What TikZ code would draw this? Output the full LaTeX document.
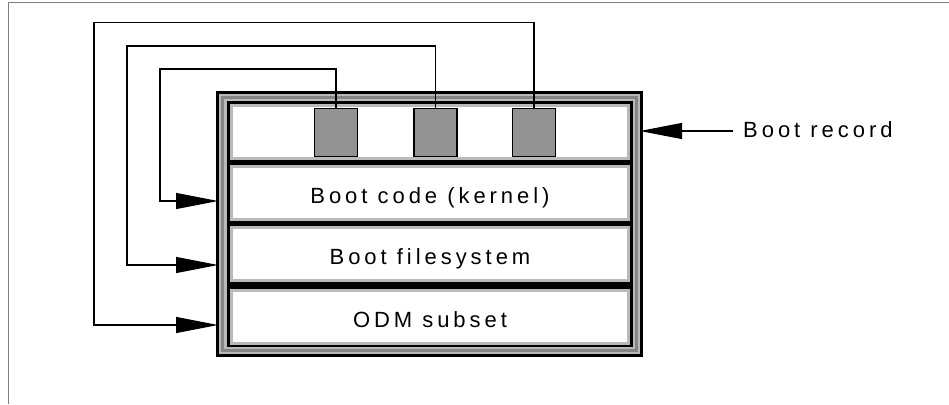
\documentclass[tikz,border=0pt]{standalone}
\usepackage{fontspec}
\setmainfont{Liberation Sans}[LetterSpace=18]
\usetikzlibrary{arrows.meta}

\definecolor{bandlight}{HTML}{B9B9B9}
\definecolor{banddark}{HTML}{858585}
\definecolor{slotgray}{HTML}{929292}
\definecolor{framegray}{HTML}{808080}

\tikzset{
  label text/.style={font=\fontsize{22}{26}\selectfont, text=black},
  layerbox/.style={draw=bandlight, line width=3pt, fill=white, outer sep=0pt,
    minimum width=397pt, minimum height=53pt, inner sep=0pt, label text,
    text height=21pt, text depth=0pt},
  slot/.style={draw=black, line width=1.2pt, fill=slotgray, outer sep=0pt,
    minimum width=43pt, minimum height=48pt, inner sep=0pt},
  conn/.style={draw=black, line width=1.1pt},
  tip/.style={-{Triangle[length=42pt,width=16pt]}},
}

\begin{document}
\begin{tikzpicture}[x=1pt,y=-1pt]
\useasboundingbox (0,0) rectangle (949,404);

% page frame (top and left edges)
\draw[framegray, line width=1.5pt] (8.5,404) -- (8.5,2.5) -- (949,2.5);

% layered outer casing
\node[fill=black, minimum width=427pt, minimum height=266pt, inner sep=0pt, outer sep=0pt]
  (outer) at (429.5,224) {};
\fill[bandlight] (218.7,93.6) rectangle (640.3,354.4);
\fill[banddark]  (221.4,96.2) rectangle (637.6,351.8);
\fill[bandlight] (224,98.8) rectangle (635,349.4);
\fill[black]     (226.6,101.4) rectangle (632.6,347.4);

% stacked layers
\node[layerbox] (record) at (430,132)   {};
\node[layerbox] (kernel) at (430,192.5) {Boot code (kernel)};
\node[layerbox] (fs)     at (430,254)   {Boot filesystem};
\node[layerbox] (odm)    at (430,316.5) {ODM subset};

% pointer slots in the boot record
\node[slot] (s1) at (336,132.5) {};
\node[slot] (s2) at (435.5,132.5) {};
\node[slot] (s3) at (534,132.5) {};

% routing corners and entry points
\coordinate (c1) at (160,69);
\coordinate (c2) at (127,46);
\coordinate (c3) at (94,22.5);
\coordinate (e1) at (218,201);
\coordinate (e2) at (218,265);
\coordinate (e3) at (218,325);

\draw[conn, tip] (s1.north) |- (c1) |- (e1);
\draw[conn, tip] (s2.north) |- (c2) |- (e2);
\draw[conn, tip] (s3.north) |- (c3) |- (e3);

% boot record callout
\node[label text, anchor=west, inner sep=0pt] (br) at (743,130) {Boot record};
\coordinate (brstart) at (733,131);
\coordinate (brend) at (640,131);
\draw[conn, tip] (brstart) -- (brend);
\end{tikzpicture}
\end{document}
